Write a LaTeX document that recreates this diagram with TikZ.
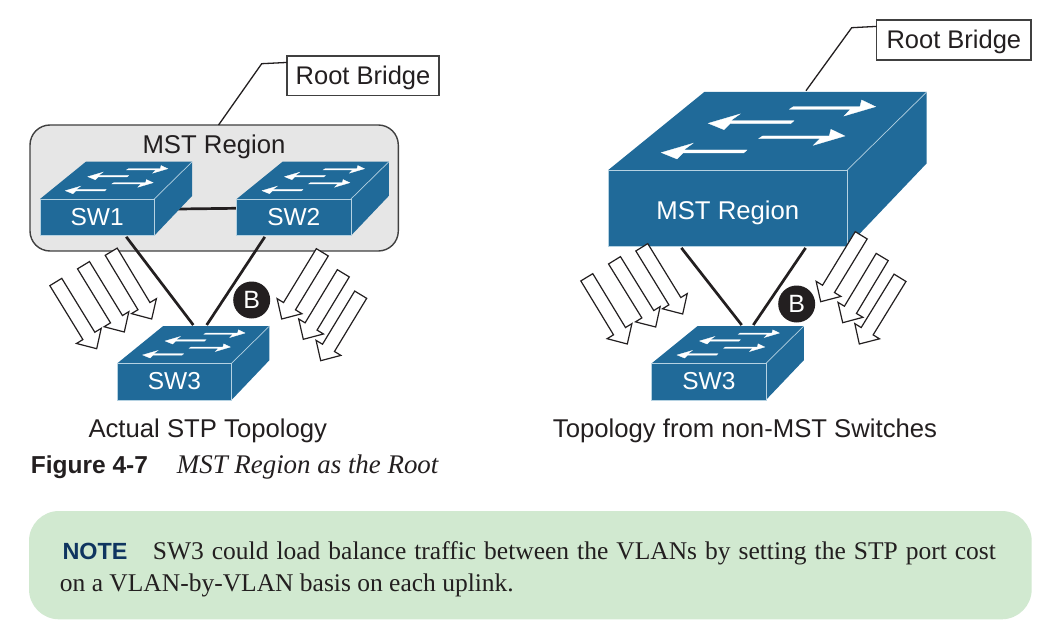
\documentclass[tikz,border=0pt]{standalone}
\usepackage{fontspec}
\setmainfont{Liberation Sans}
\newfontfamily\serifbook{Liberation Serif}
\usetikzlibrary{calc}
\definecolor{swblue}{HTML}{206A99}
\definecolor{swedge}{HTML}{B5D2E2}
\definecolor{inkblack}{HTML}{231F20}
\definecolor{notegreen}{HTML}{D1E9D0}
\definecolor{noteblue}{HTML}{0F3560}
\definecolor{regiongray}{HTML}{E6E6E6}
\definecolor{regionline}{HTML}{404040}
\pgfdeclarelayer{regionlayer}
\pgfdeclarelayer{linklayer}
\pgfsetlayers{regionlayer,linklayer,main}
\newcommand{\fsz}[1]{\fontsize{#1}{#1}\selectfont}
\newcommand{\lowered}[2]{\smash{\raisebox{-#1}{#2}}}
\tikzset{
  swfront/.style={fill=swblue,draw=swedge,line width=0.7pt,inner sep=0pt,outer sep=0pt,text=white,anchor=north west},
  swface/.style={fill=swblue},
  swline/.style={draw=swedge,line width=0.7pt},
  swarrow/.style={fill=white,draw=white,line width=0.3pt},
  lbl/.style={text=inkblack,inner sep=0pt,font=\fsz{25.7}},
  rootbox/.style={draw=regionline,fill=white,line width=1.4pt,inner sep=0pt,outer sep=0pt,minimum height=39.7pt,minimum width=152pt,text=inkblack,font=\fsz{25.5}},
  leader/.style={draw=inkblack,line width=1.3pt},
  linkline/.style={draw=inkblack,line width=2.7pt},
  hollowarrow/.style={draw=inkblack,fill=white,line width=1.2pt,line join=miter},
  badge/.style={circle,fill=inkblack,text=white,minimum size=37pt,inner sep=0pt,font=\fsz{25}},
}
% #1 name, #2 x, #3 y, #4 scale, #5 font size, #6 text
\newcommand{\switchbox}[6]{%
  \begin{scope}[shift={(#2,#3)},x=#4pt,y=-#4pt]
    \path[swface] (0,0) -- (96,-78) -- (318.4,-78) -- (318.4,-6.7) -- (239,76.7) -- (239,0) -- cycle;
    \draw[swline] (239,0) -- (318.4,-78);
    \node[swfront,minimum width=#4*239pt,minimum height=#4*76.7pt,font=\fsz{#5}] (#1) at (0,0) {#6};
    \swright{0}{0}\swleft{0}{0}\swright{-30.7}{29.3}\swleft{-47}{29.3}
  \end{scope}}
\newcommand{\swright}[2]{\path[swarrow,shift={(#1,#2)}] (185,-63.3) -- (251.7,-63.3) -- (253.3,-70) -- (267.3,-63.3) -- (235.7,-54) -- (242.3,-60.7) -- (181,-60.7) -- cycle;}
\newcommand{\swleft}[2]{\path[swarrow,shift={(#1,#2)}] (100,-46.7) -- (131.7,-56) -- (122.3,-49.3) -- (185.7,-49.3) -- (182.3,-46.3) -- (121.7,-46.3) -- (115.7,-40.3) -- cycle;}
% hollow arrow from tail #1 to tip #2
\newcommand{\hollow}[2]{%
  \coordinate (TT) at (#1); \coordinate (HH) at (#2);
  \coordinate (BB) at ($(HH)!15pt!(TT)$);
  \draw[hollowarrow] ($(TT)!7pt!90:(HH)$) -- ($(BB)!7pt!-90:(TT)$) -- ($(BB)!14.5pt!-90:(TT)$) -- (HH)
    -- ($(BB)!14.5pt!90:(TT)$) -- ($(BB)!7pt!90:(TT)$) -- ($(TT)!7pt!-90:(HH)$) -- cycle;}
\begin{document}
\begin{tikzpicture}[x=1pt,y=-1pt]
\useasboundingbox (0,0) rectangle (1047,631);

% region
\begin{pgfonlayer}{regionlayer}
  \fill[white] (0,0) rectangle (1047,631);
  \node[draw=regionline,fill=regiongray,line width=1.4pt,rounded corners=20pt,minimum width=368.3pt,minimum height=126pt,inner sep=0pt,outer sep=0pt] (region) at (214.15,188) {};
\end{pgfonlayer}
\node[lbl,anchor=base] (regionlbl) at (214,153.8) {MST Region};

% switches
\switchbox{sw1}{40}{199}{0.478}{24.5}{\lowered{8.1pt}{SW1}}
\switchbox{sw2}{236.7}{199}{0.478}{24.5}{\lowered{8.1pt}{SW2}}
\switchbox{sw3a}{117.3}{363.3}{0.478}{24.5}{\lowered{8.1pt}{SW3}}
\switchbox{sw3b}{651.7}{363.3}{0.478}{24.5}{\lowered{8.1pt}{SW3}}
\switchbox{big}{608.3}{170}{1}{25.7}{\lowered{11.5pt}{MST Region}}

% connector ends on the switch tops
\coordinate (sw3aL) at (193.3,325);
\coordinate (sw3aR) at (206.7,325);
\coordinate (sw3bL) at (741.7,325);
\coordinate (sw3bR) at (753.3,325);
\coordinate (bigtop) at (806,90.7);
\coordinate (elbowL) at (261.7,63.7);
\coordinate (elbowR) at (851.7,27.7);

\begin{pgfonlayer}{linklayer}
  \draw[linkline] (sw1.8.5) -- (sw2.171.5);
  \draw[linkline,shorten <=1.5pt] (sw1.-33.7) -- (sw3aL);
  \draw[linkline,shorten <=1.5pt] (sw2.213.1) -- (sw3aR);
  \draw[linkline,shorten <=1.5pt] (big.219.8) -- (sw3bL);
  \draw[linkline,shorten <=1.5pt] (big.-26.4) -- (sw3bR);
\end{pgfonlayer}

% root bridge labels
\node[rootbox] (rootL) at (363,75.85) {\lowered{8.2pt}{Root Bridge}};
\node[rootbox,minimum width=154.3pt,minimum height=40pt] (rootR) at (953.85,40) {\lowered{8.2pt}{Root Bridge}};
\draw[leader] (rootL.170.9) -- (elbowL) -- (region.86.8);
\draw[leader] (rootR.170.95) -- (elbowR) -- (bigtop);

% hollow arrows
\hollow{111.2,251.7}{151.7,319}
\hollow{83.5,265.2}{124.3,332}
\hollow{55.8,282}{96.7,348.7}
\hollow{322.3,252.3}{281.7,319}
\hollow{343.3,273.3}{303.3,339.3}
\hollow{360.7,294.7}{320.7,360.7}
\hollow{641.8,247.3}{682.7,314}
\hollow{614.5,260.3}{655.7,327}
\hollow{586.8,277.3}{627.3,344}
\hollow{861.2,235.3}{820.7,301.7}
\hollow{882.2,257}{842.7,322.7}
\hollow{900,277.8}{859.3,344}

% badges
\node[badge] (badgeL) at (251.7,300) {\lowered{8.8pt}{B}};
\node[badge] (badgeR) at (796.7,304) {\lowered{8.8pt}{B}};

% captions
\node[lbl,anchor=base west] (capL) at (88.3,437.5) {Actual STP Topology};
\node[lbl,anchor=base west] (capR) at (552.7,437.5) {Topology from non-MST Switches};
\node[text=inkblack,inner sep=0pt,anchor=base west,font=\fsz{24.5}\bfseries] (figno) at (30.7,473) {Figure 4-7};
\node[text=inkblack,inner sep=0pt,anchor=base west,font=\serifbook\fsz{26.9}\itshape] (figtitle) at (176.7,473) {MST Region as the Root};

% note
\node[fill=notegreen,rounded corners=30pt,minimum width=1002.7pt,minimum height=108.3pt,inner sep=0pt,outer sep=0pt] (note) at (530.35,565.15) {};
\node[text=noteblue,inner sep=0pt,anchor=base west,font=\fsz{23.4}\bfseries] (notehead) at (62.3,559.3) {NOTE};
\node[text=inkblack,inner sep=0pt,anchor=base west,font=\serifbook\fsz{25.5}] (noteone) at (152.7,559.3) {\makebox[843pt][s]{SW3 could load balance traffic between the VLANs by setting the STP port cost}};
\node[text=inkblack,inner sep=0pt,anchor=base west,font=\serifbook\fsz{25.5}] (notetwo) at (59.7,591) {on a VLAN-by-VLAN basis on each uplink.};
\end{tikzpicture}
\end{document}
